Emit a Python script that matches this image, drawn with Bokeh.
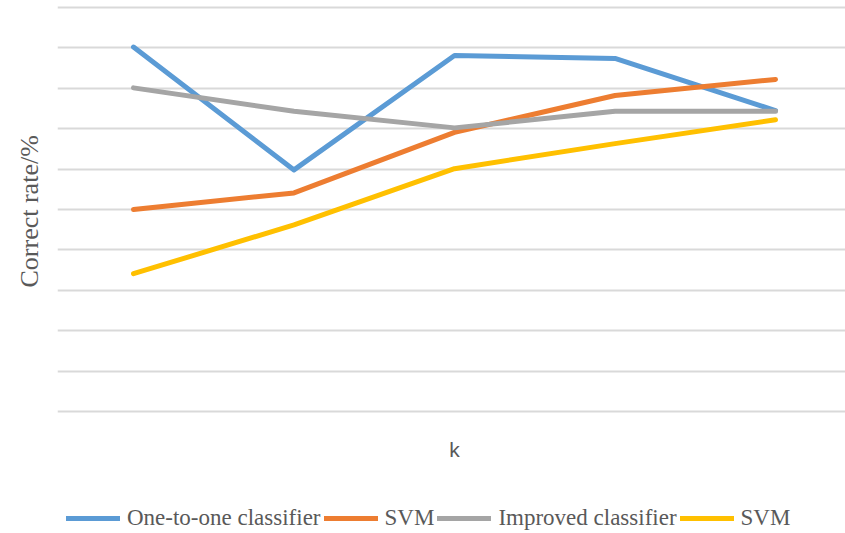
from bokeh.plotting import figure
from bokeh.models import Range1d, Legend, LegendItem, FixedTicker, Label, Title
from bokeh.embed import file_html
from bokeh.resources import INLINE

k = [1, 2, 3, 4, 5]
one_to_one = [90.2, 59.8, 88.1, 87.4, 74.5]
svm_a = [50.0, 54.1, 69.1, 78.2, 82.2]
improved = [80.1, 74.3, 70.2, 74.3, 74.3]
svm_b = [34.1, 46.2, 60.1, 66.3, 72.2]
grid_ticks = [0, 10, 20, 30, 40, 50, 60, 70, 80, 90, 100]
x_title = "k"
y_title = "Correct rate/%"

series = [
    ("One-to-one classifier", one_to_one, "#5B9BD5"),
    ("SVM", svm_a, "#ED7D31"),
    ("Improved classifier", improved, "#A5A5A5"),
    ("SVM", svm_b, "#FFC000"),
]

p = figure(width=845, height=533, output_backend="svg", toolbar_location=None,
           x_range=Range1d(0.5265, 5.436), y_range=Range1d(-30.2, 101.73),
           min_border_left=57, min_border_right=0, min_border_top=0, min_border_bottom=0)
p.outline_line_color = None
p.background_fill_color = "white"

items = []
for name, ys, col in series:
    r = p.line(k, ys, line_color=col, line_width=5, line_cap="round", line_join="round")
    items.append(LegendItem(label=name, renderers=[r]))

p.ygrid.ticker = FixedTicker(ticks=grid_ticks)
p.ygrid.grid_line_color = "#D9D9D9"
p.ygrid.grid_line_width = 2
p.xgrid.grid_line_color = None
p.xaxis.visible = False
p.yaxis.visible = False

p.add_layout(Title(text=y_title, align="left", vertical_align="top", offset=246, standoff=24,
                   text_font="Liberation Serif", text_font_size="26px",
                   text_font_style="normal", text_color="#595959"), "left")
p.add_layout(Label(x=3, y=-9.4, text=x_title, text_align="center", text_baseline="middle",
                   text_font="Liberation Sans", text_font_size="21px", text_color="#595959"))

legend = Legend(items=items, orientation="horizontal", location=(9, 2),
                label_text_font="Liberation Serif", label_text_font_size="23px",
                label_text_color="#595959", glyph_width=54, glyph_height=10,
                label_standoff=7, spacing=3, padding=0, margin=0,
                border_line_color=None, background_fill_alpha=0)
p.add_layout(legend, "center")

open("out.html", "w").write(file_html(p, INLINE))
